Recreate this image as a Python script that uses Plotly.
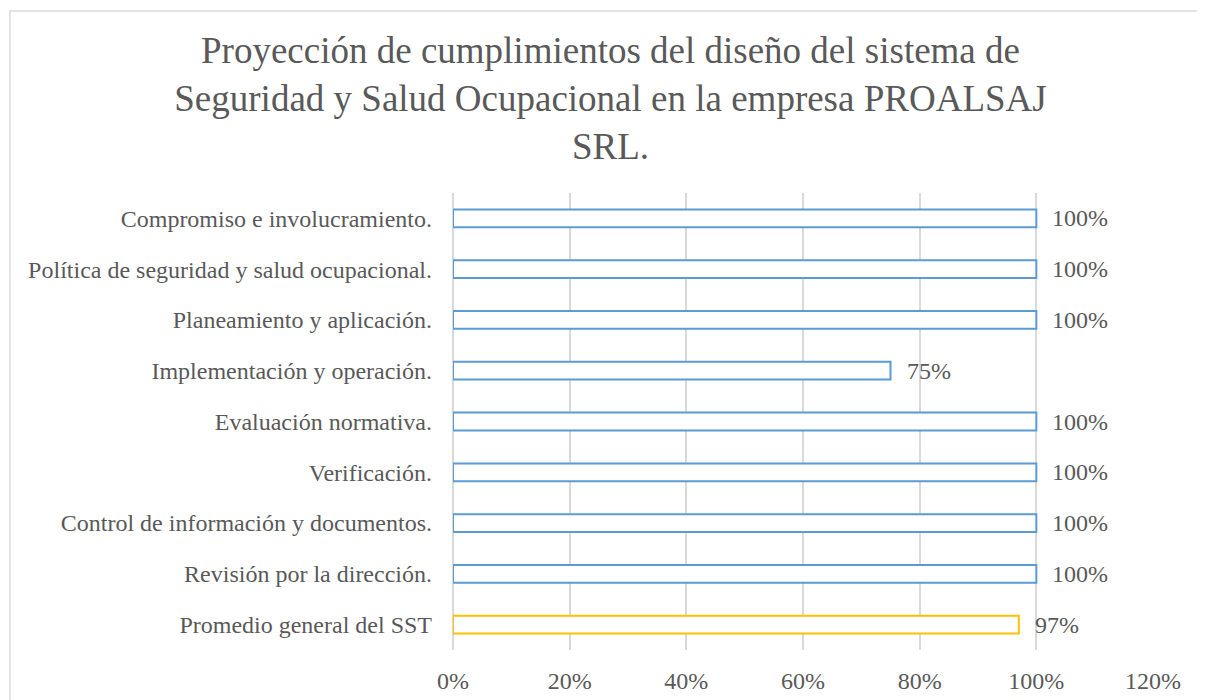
import plotly.graph_objects as go

categories = [
    "Compromiso e involucramiento.",
    "Política de seguridad y salud ocupacional.",
    "Planeamiento y aplicación.",
    "Implementación y operación.",
    "Evaluación normativa.",
    "Verificación.",
    "Control de información y documentos.",
    "Revisión por la dirección.",
    "Promedio general del SST",
]
values = [1.00, 1.00, 1.00, 0.75, 1.00, 1.00, 1.00, 1.00, 0.97]
labels = ["100%", "100%", "100%", "75%", "100%", "100%", "100%", "100%", "97%"]
bar_colors = ["#5B9BD5"] * 8 + ["#FFC000"]
x_ticks = [0, 0.2, 0.4, 0.6, 0.8, 1.0, 1.2]
x_tick_text = ["0%", "20%", "40%", "60%", "80%", "100%", "120%"]

FONT = "Liberation Serif, Times New Roman, serif"
GREY = "#595959"

fig = go.Figure()
fig.add_trace(go.Bar(
    y=categories,
    x=values,
    orientation="h",
    width=0.35,
    marker=dict(color="white", line=dict(color=bar_colors, width=2)),
    hoverinfo="skip",
))

for c, v, t in zip(categories, values, labels):
    fig.add_annotation(x=v, y=c, text=t, showarrow=False, xanchor="left",
                       xshift=14, font=dict(family=FONT, size=24, color=GREY))

fig.add_shape(type="rect", xref="paper", yref="paper",
              x0=-0.6329, x1=1.2, y0=-0.2, y1=1.398,
              line=dict(color="#D9D9D9", width=1.5), layer="below")

fig.update_layout(
    width=1205, height=700,
    margin=dict(l=445, r=60, t=185, b=58),
    paper_bgcolor="white", plot_bgcolor="white",
    showlegend=False,
    font=dict(family=FONT, color=GREY, size=24),
    title=dict(
        text="Proyección de cumplimientos del diseño del sistema de<br>Seguridad y Salud Ocupacional en la empresa PROALSAJ<br>SRL.",
        x=0.5, xref="container", xanchor="center",
        y=1 - 55 / 700, yref="container", yanchor="top",
        font=dict(family=FONT, size=37, color=GREY),
    ),
    xaxis=dict(
        range=[0, 1.2], tickvals=x_ticks, ticktext=x_tick_text,
        showgrid=True, gridcolor="#D9D9D9", gridwidth=1.5,
        zeroline=True, zerolinecolor="#D9D9D9", zerolinewidth=1.5,
        showline=False, ticks="", ticklabelstandoff=14,
        tickfont=dict(size=24, color=GREY),
    ),
    yaxis=dict(
        autorange="reversed", showgrid=False, showline=False, ticks="",
        ticklabelstandoff=20, tickfont=dict(size=24, color=GREY),
    ),
)

fig.write_html("out.html")
